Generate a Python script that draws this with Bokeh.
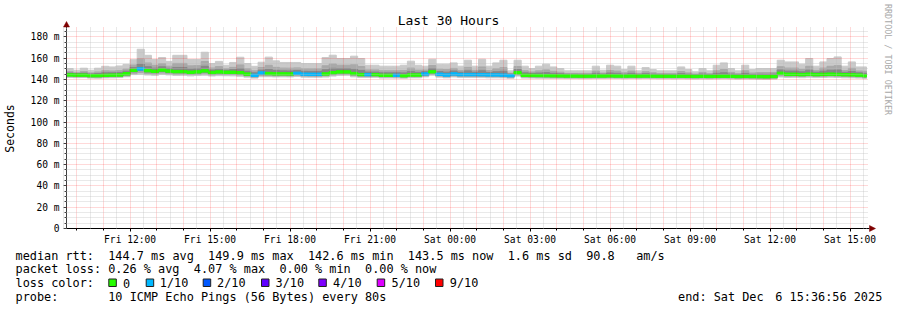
import math
import re
from bokeh.plotting import figure
from bokeh.models import FixedTicker, Grid, ColumnDataSource, Range1d
from bokeh.core.properties import value
from bokeh.embed import file_html
from bokeh.resources import INLINE

# ---------------- data ----------------
# time in hours since Fri 00:00; graph spans 30 h ending Sat 15:36:56
T_END = 24 + 15 + 36 / 60 + 56 / 3600
T_START = T_END - 30
STEP_H = 16 / 60            # 16-minute consolidated steps
FIRST_STEP = 9.6            # Fri 09:36

median = [144.3, 144.1, 144.1, 143.6, 143.6, 143.9, 144.1, 144.2, 145.4, 148.6,
          149.9, 148.3, 147.7, 148.9, 147.9, 147.4, 147.4, 146.8, 147.2, 148.1,
          146.6, 147.1, 146.8, 146.8, 146.4, 145.1, 143.9, 146.1, 145.6, 145.3,
          145.3, 145.2, 145.8, 145.0, 144.9, 144.9, 145.2, 146.4, 147.1, 147.1,
          145.6, 144.6, 144.6, 144.6, 143.9, 143.9, 143.9, 143.5, 144.2, 144.2,
          145.2, 147.2, 144.9, 144.2, 145.2, 144.6, 144.6, 144.6, 144.5, 144.3,
          144.3, 144.1, 143.6, 146.3, 143.9, 143.8, 143.7, 143.6, 143.5, 143.4,
          143.3, 143.3, 143.2, 143.2, 143.3, 143.3, 143.4, 143.3, 143.2, 143.3,
          143.2, 143.3, 143.2, 143.1, 143.1, 143.0, 143.1, 143.0, 142.9, 143.0,
          142.9, 143.0, 143.1, 143.0, 142.8, 142.9, 142.8, 142.7, 142.6, 142.8,
          145.8, 144.9, 144.9, 144.6, 145.0, 144.6, 144.8, 145.0, 144.8, 144.5,
          144.4, 144.1, 143.5]

loss = [0, 0, 0, 0, 0, 0, 0, 0, 0, 0,
        1, 0, 0, 0, 0, 0, 0, 0, 0, 0,
        0, 0, 0, 0, 0, 0, 1, 1, 0, 0,
        0, 0, 1, 1, 1, 1, 0, 0, 0, 0,
        0, 0, 1, 0, 0, 0, 1, 0, 0, 0,
        1, 0, 1, 1, 1, 1, 1, 1, 1, 1,
        1, 1, 1, 0, 0, 0, 0, 0, 0, 0,
        0, 0, 0, 0, 0, 0, 0, 0, 0, 0,
        0, 0, 0, 0, 0, 0, 0, 0, 0, 0,
        0, 0, 0, 0, 0, 0, 0, 0, 0, 0,
        0, 0, 0, 0, 0, 0, 0, 0, 0, 0,
        0, 0, 0]

rtt_max = [150.3, 148.7, 150.6, 148.7, 150.6, 152.4, 151.8, 152.7, 154.2, 158.6,
           168.4, 162.7, 158.8, 160.6, 157.0, 162.7, 162.7, 158.8, 158.8, 165.6,
           155.0, 157.0, 153.4, 156.0, 160.9, 155.0, 152.4, 156.2, 161.0, 157.5,
           156.0, 156.0, 156.0, 155.0, 155.0, 155.0, 160.6, 162.8, 159.7, 159.7,
           161.9, 159.7, 153.4, 153.4, 152.5, 152.5, 152.5, 153.4, 157.2, 153.4,
           152.5, 159.0, 154.4, 154.4, 155.6, 152.5, 158.1, 152.5, 159.0, 152.5,
           155.6, 158.1, 148.1, 158.1, 152.5, 150.3, 152.5, 154.4, 151.8, 150.3,
           148.1, 148.1, 148.1, 148.1, 152.5, 148.7, 153.4, 152.5, 149.3, 152.5,
           148.1, 151.2, 149.3, 148.1, 148.1, 148.1, 151.8, 149.3, 147.2, 150.3,
           148.1, 153.4, 155.6, 150.3, 148.1, 153.4, 149.3, 150.3, 150.3, 150.3,
           158.1, 156.5, 156.5, 154.4, 159.7, 152.5, 156.5, 159.7, 161.2, 152.5,
           156.5, 151.8, 151.8]

smoke_mid_hi = [147.3, 146.4, 147.4, 146.2, 147.1, 148.2, 148.0, 148.5, 149.8, 153.6,
                159.2, 155.5, 153.3, 154.8, 152.5, 155.1, 155.1, 152.8, 153.0, 156.9,
                150.8, 152.1, 150.1, 151.4, 153.7, 150.1, 148.2, 151.2, 153.3, 151.4,
                150.7, 150.6, 150.9, 150.0, 150.0, 150.0, 152.9, 154.6, 153.4, 153.4,
                153.8, 152.2, 149.0, 149.0, 148.2, 148.2, 148.2, 148.5, 150.7, 148.8,
                148.9, 153.1, 149.7, 149.3, 150.4, 148.6, 151.4, 148.6, 151.8, 148.4,
                150.0, 151.1, 145.9, 152.2, 148.2, 147.1, 148.1, 149.0, 147.7, 146.9,
                145.7, 145.7, 145.7, 145.7, 147.9, 146.0, 148.4, 147.9, 146.3, 147.9,
                145.7, 147.3, 146.3, 145.6, 145.6, 145.6, 147.5, 146.2, 145.1, 146.7,
                145.5, 148.2, 149.4, 146.7, 145.5, 148.2, 146.1, 146.5, 146.5, 146.6,
                152.0, 150.7, 150.7, 149.5, 152.4, 148.6, 150.7, 152.4, 153.0, 148.5,
                150.5, 148.0, 147.7]

smoke_in_hi = [146.1, 145.6, 146.0, 145.2, 145.6, 146.3, 146.3, 146.6, 147.8, 151.3,
               154.5, 152.0, 150.6, 151.9, 150.4, 151.3, 151.3, 149.9, 150.2, 152.4,
               148.9, 149.7, 148.7, 149.3, 150.1, 147.7, 146.3, 148.7, 149.5, 148.5,
               148.1, 148.0, 148.5, 147.7, 147.6, 147.6, 149.1, 150.5, 150.3, 150.3,
               149.7, 148.4, 147.0, 147.0, 146.3, 146.3, 146.3, 146.2, 147.6, 146.7,
               147.3, 150.3, 147.5, 146.9, 148.0, 146.8, 148.1, 146.8, 148.2, 146.6,
               147.3, 147.7, 145.1, 149.4, 146.3, 145.7, 146.1, 146.5, 145.8, 145.4,
               144.9, 144.9, 144.8, 144.8, 145.8, 145.0, 146.1, 145.8, 145.0, 145.8,
               144.8, 145.5, 145.0, 144.7, 144.7, 144.6, 145.5, 144.9, 144.4, 145.1,
               144.6, 145.8, 146.3, 145.1, 144.5, 145.7, 144.7, 144.9, 144.8, 145.0,
               148.9, 147.9, 147.9, 147.2, 148.7, 146.8, 147.8, 148.7, 148.9, 146.7,
               147.5, 146.3, 145.8]

smoke_in_lo = [143.4, 143.2, 143.2, 142.7, 142.7, 143.0, 143.2, 143.3, 144.3, 147.2,
               148.4, 147.0, 146.5, 147.6, 146.7, 146.3, 146.3, 145.7, 146.0, 146.8,
               145.5, 146.0, 145.7, 145.7, 145.3, 144.1, 142.9, 145.0, 144.6, 144.3,
               144.4, 144.3, 144.8, 144.1, 144.0, 144.0, 144.3, 145.4, 146.1, 146.1,
               144.6, 143.7, 143.7, 143.7, 143.0, 143.0, 143.0, 142.7, 143.4, 143.4,
               144.3, 146.2, 144.0, 143.4, 144.3, 143.7, 143.7, 143.7, 143.6, 143.4,
               143.4, 143.2, 142.7, 145.4, 143.0, 142.9, 142.8, 142.7, 142.6, 142.5,
               142.4, 142.4, 142.3, 142.3, 142.4, 142.4, 142.5, 142.4, 142.3, 142.4,
               142.3, 142.4, 142.3, 142.2, 142.2, 142.1, 142.2, 142.1, 142.0, 142.1,
               142.0, 142.1, 142.2, 142.1, 141.9, 142.0, 141.9, 141.8, 141.7, 141.9,
               144.7, 143.9, 144.0, 143.7, 144.1, 143.7, 143.9, 144.1, 143.9, 143.6,
               143.5, 143.2, 142.6]

smoke_mid_lo = [142.7, 142.5, 142.5, 142.0, 142.0, 142.3, 142.5, 142.6, 143.5, 145.8,
                146.5, 145.5, 145.2, 146.0, 145.5, 145.0, 145.1, 144.6, 144.9, 145.4,
                144.4, 144.8, 144.6, 144.6, 144.2, 143.2, 142.2, 143.8, 143.6, 143.4,
                143.5, 143.4, 143.8, 143.2, 143.1, 143.1, 143.4, 144.3, 145.0, 145.0,
                143.6, 142.9, 142.9, 142.9, 142.3, 142.3, 142.3, 142.0, 142.5, 142.5,
                143.4, 145.0, 143.2, 142.5, 143.4, 142.9, 142.9, 142.9, 142.8, 142.6,
                142.6, 142.5, 142.0, 144.3, 142.3, 142.2, 142.1, 142.0, 141.9, 141.8,
                141.7, 141.7, 141.6, 141.6, 141.7, 141.7, 141.8, 141.7, 141.6, 141.7,
                141.6, 141.7, 141.6, 141.5, 141.5, 141.4, 141.5, 141.4, 141.3, 141.4,
                141.3, 141.4, 141.5, 141.4, 141.2, 141.3, 141.2, 141.1, 141.0, 141.2,
                143.5, 143.0, 143.1, 142.8, 143.2, 142.8, 143.0, 143.2, 143.0, 142.7,
                142.6, 142.3, 141.8]

rtt_min = [141.9, 141.7, 141.8, 141.3, 141.2, 141.5, 141.6, 141.8, 142.6, 144.6,
           145.0, 144.2, 143.9, 144.8, 144.3, 143.8, 143.9, 143.4, 143.7, 144.0,
           143.3, 143.6, 143.5, 143.4, 143.0, 142.2, 141.3, 142.6, 142.6, 142.4,
           142.5, 142.4, 142.8, 142.2, 142.1, 142.1, 142.3, 143.2, 143.8, 143.9,
           142.5, 141.9, 141.9, 142.0, 141.4, 141.4, 141.3, 141.1, 141.6, 141.6,
           142.5, 144.0, 142.2, 141.6, 142.4, 141.9, 141.9, 141.9, 141.8, 141.6,
           141.6, 141.5, 141.1, 143.2, 141.4, 141.3, 141.2, 141.1, 141.0, 141.0,
           140.9, 140.9, 140.8, 140.8, 140.9, 140.9, 141.0, 140.9, 140.8, 140.9,
           140.8, 140.9, 140.8, 140.7, 140.7, 140.6, 140.7, 140.6, 140.5, 140.6,
           140.5, 140.6, 140.7, 140.6, 140.4, 140.5, 140.4, 140.3, 140.2, 140.4,
           142.3, 141.9, 142.0, 141.7, 142.1, 141.8, 141.9, 142.1, 141.9, 141.6,
           141.5, 141.3, 140.8]

x_tick_hours = [12, 15, 18, 21, 24, 27, 30, 33, 36, 39]
x_tick_labels = ["Fri 12:00", "Fri 15:00", "Fri 18:00", "Fri 21:00", "Sat 00:00",
                 "Sat 03:00", "Sat 06:00", "Sat 09:00", "Sat 12:00", "Sat 15:00"]
y_ticks = [0, 20, 40, 60, 80, 100, 120, 140, 160, 180]
y_tick_labels = ["0", "20 m", "40 m", "60 m", "80 m", "100 m", "120 m", "140 m",
                 "160 m", "180 m"]

loss_levels = ["0", "1/10", "2/10", "3/10", "4/10", "5/10", "9/10"]
loss_colors = ["#26ff00", "#00b8ff", "#0059ff", "#5e00ff", "#7e00ff", "#dd00ff", "#ff0000"]

legend_lines = [
    "median rtt:  144.7 ms avg  149.9 ms max  142.6 ms min  143.5 ms now  1.6 ms sd  90.8   am/s",
    "packet loss: 0.26 % avg  4.07 % max  0.00 % min  0.00 % now",
    "loss color:",
    "probe:       10 ICMP Echo Pings (56 Bytes) every 80s",
]
legend_end = "end: Sat Dec  6 15:36:56 2025"
title_text = "Last 30 Hours"
watermark = "RRDTOOL / TOBI OETIKER"

# ---------------- layout ----------------
W, H = 897, 310
FL, FR, FT, FB = 66, 866, 28, 228      # value box on the canvas (pixels)
Y_MAX = 187.9
MONO = "DejaVu Sans Mono"
LEG_SIZE = 11.85
CW = 0.602 * LEG_SIZE                  # monospace advance


# canvas pixel -> data coordinates
def xd(X):
    return T_START + (X - FL) * 30.0 / (FR - FL)


def yd(Y):
    return (FB - Y) * Y_MAX / (FB - FT)


# the plotting frame covers the whole canvas; axes are pinned with fixed_location
p = figure(width=W, height=H, output_backend="svg", toolbar_location=None,
           title_location=None, min_border=0,
           x_range=Range1d(xd(0), xd(W)), y_range=Range1d(yd(H), yd(0)))
p.outline_line_color = None
p.background_fill_color = "#ffffff"
p.border_fill_color = "#ffffff"
p.xgrid.visible = False
p.ygrid.visible = False

# white masks: keep the grid inside the value box when it cannot be bounded
mask = dict(l=[xd(0), xd(0), xd(0), xd(868)], r=[xd(W), xd(W), xd(FL), xd(W)],
            t=[yd(0), yd(FB), yd(0), yd(0)], b=[yd(26.5), yd(H), yd(H), yd(H)])
p.quad(left="l", right="r", top="t", bottom="b", source=ColumnDataSource(mask),
       fill_color="#ffffff", line_color=None)

# smoke and median (steps clipped to the 30 h window)
n = len(median)
left = [max(FIRST_STEP + i * STEP_H, T_START) for i in range(n)]
right = [min(FIRST_STEP + (i + 1) * STEP_H, T_END) for i in range(n)]
src = ColumnDataSource(dict(left=left, right=right, med=median,
                            lo=rtt_min, hi=rtt_max,
                            mlo=smoke_mid_lo, mhi=smoke_mid_hi,
                            ilo=smoke_in_lo, ihi=smoke_in_hi,
                            mb=[m - 1.1 for m in median], mt=[m + 1.1 for m in median],
                            col=[loss_colors[l] for l in loss]))
for lo_c, hi_c, c in (("lo", "hi", "#cacaca"), ("mlo", "mhi", "#a9a9a9"),
                      ("ilo", "ihi", "#878787")):
    p.quad(left="left", right="right", bottom=lo_c, top=hi_c, source=src,
           fill_color=c, line_color=c, line_width=1)
p.quad(left="left", right="right", bottom="mb", top="mt", source=src,
       fill_color="col", line_color="col", line_width=1)

# grids (on top of the smoke, like rrdtool)
hours = list(range(10, 40))
half_hours = [h + 0.5 for h in range(9, 40)]
y_minor = [v for v in range(5, 190, 5) if v % 20 != 0]
can_bound = "cross_bounds" in Grid.properties()
for dim, tk in ((0, FixedTicker(ticks=hours, minor_ticks=half_hours)),
                (1, FixedTicker(ticks=y_ticks[1:], minor_ticks=y_minor))):
    g = Grid(dimension=dim, ticker=tk,
             grid_line_color="#ff0000", grid_line_alpha=0.3, grid_line_dash="1 1",
             minor_grid_line_color="#bdbdbd", minor_grid_line_alpha=0.65,
             minor_grid_line_dash="1 1")
    if can_bound:
        g.cross_bounds = (0, yd(26.7)) if dim == 0 else (T_START, xd(868))
        g.level = "overlay"
    p.add_layout(g)

# axes pinned to the value box
xa = p.xaxis[0]
xa.fixed_location = 0
xa.bounds = (T_START, T_END)
xa.ticker = FixedTicker(ticks=x_tick_hours, minor_ticks=hours)
xa.major_label_overrides = dict(zip(x_tick_hours, x_tick_labels))
xa.axis_line_color = "#000000"
xa.major_tick_out = 3
xa.major_tick_in = 0
xa.minor_tick_out = 2
xa.minor_tick_in = 0
xa.major_tick_line_color = "#000000"
xa.minor_tick_line_color = "#000000"
xa.major_label_standoff = 2
xa.major_label_text_font = MONO
xa.major_label_text_font_size = "9.6px"
xa.major_label_text_color = "#000000"

ya = p.yaxis[0]
ya.fixed_location = T_START
ya.bounds = (0, Y_MAX)
ya.ticker = FixedTicker(ticks=y_ticks, minor_ticks=y_minor)
ya.major_label_overrides = dict(zip(y_ticks, y_tick_labels))
ya.axis_line_color = "#404040"
ya.major_tick_out = 3
ya.major_tick_in = 0
ya.minor_tick_out = 2
ya.minor_tick_in = 0
ya.major_tick_line_color = "#404040"
ya.minor_tick_line_color = "#404040"
ya.major_label_standoff = 4
ya.major_label_text_font = MONO
ya.major_label_text_font_size = "9.6px"
ya.major_label_text_color = "#000000"
ya.axis_label = "Seconds"
ya.axis_label_text_font = MONO
ya.axis_label_text_font_size = "11.5px"
ya.axis_label_text_font_style = "normal"
ya.axis_label_text_color = "#000000"
ya.axis_label_standoff = 11

# axis arrows
ARROW_C = "#7f0000"
p.segment(x0=[xd(FL), xd(FR)], y0=[yd(FT), yd(FB)], x1=[xd(FL), xd(869)], y1=[yd(26), yd(FB)],
          line_color=["#404040", "#000000"], line_width=1)
p.patches(xs=[[xd(63), xd(66), xd(69)], [xd(869), xd(875), xd(869)]],
          ys=[[yd(26.5), yd(21), yd(26.5)], [yd(225), yd(FB), yd(231)]],
          fill_color=ARROW_C, line_color=ARROW_C, line_width=0.5)

# title and watermark
p.text(x=[xd(448)], y=[yd(20)], text=[title_text], text_font=value(MONO),
       text_font_size=value("13px"), text_color="#000000",
       text_align="center", text_baseline="middle")
p.text(x=[xd(887)], y=[yd(59)], text=[watermark], angle=-math.pi / 2,
       text_font=value(MONO), text_font_size=value("8.4px"), text_color="#a8a8a8",
       text_align="center", text_baseline="middle")

# legend: monospace layout, each run of text placed at its character column
LEG_X0 = 15.0
leg_y = [255, 268.5, 282.5, 296.5]
tx, ty, tt = [], [], []
for line, yy in zip(legend_lines, leg_y):
    for m in re.finditer(r"\S+(?: \S+)*", line):
        tx.append(xd(LEG_X0 + m.start() * CW)); ty.append(yd(yy)); tt.append(m.group())
for m in re.finditer(r"\S+(?: \S+)*", legend_end):
    tx.append(xd(677.5 + m.start() * 6.95)); ty.append(yd(296.5)); tt.append(m.group())
sq_x = [108.3, 145.7, 202.7, 261.0, 318.3, 376.7, 435.0]
lab_x = [122.6, 159.3, 216.6, 275.0, 332.6, 391.0, 449.3]
for name, lx in zip(loss_levels, lab_x):
    tx.append(xd(lx)); ty.append(yd(282.5)); tt.append(name)
p.text(x=tx, y=ty, text=tt, text_font=value(MONO), text_font_size=value("%.2fpx" % LEG_SIZE),
       text_color="#000000", text_align="left", text_baseline="middle")
p.quad(left=[xd(v) for v in sq_x], right=[xd(v + 7.5) for v in sq_x],
       top=[yd(278.5)] * len(sq_x), bottom=[yd(286.0)] * len(sq_x),
       fill_color=loss_colors, line_color="#202020", line_width=1)

open("out.html", "w").write(file_html(p, INLINE))
